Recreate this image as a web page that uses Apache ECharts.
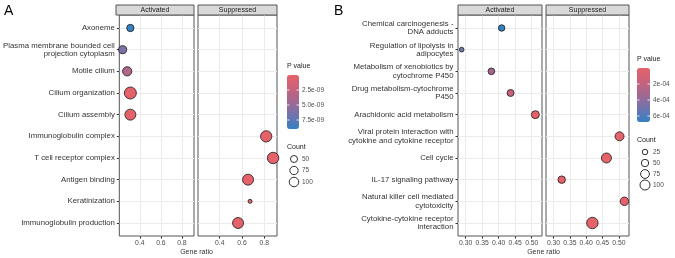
<!DOCTYPE html>
<html>
<head>
<meta charset="utf-8">
<script src="https://cdn.jsdelivr.net/npm/echarts@6/dist/echarts.min.js"></script>
<style>
html, body { margin: 0; padding: 0; background: #fff; }
#main { width: 675px; height: 258px; }
</style>
</head>
<body>
<div id="main"></div>
<script>
// ---- panel A (first 5 terms = Activated, last 5 = Suppressed)
var termsA = ['Axoneme', 'Plasma membrane bounded cell\nprojection cytoplasm', 'Motile cilium',
    'Cilium organization', 'Cilium assembly', 'Immunoglobulin complex', 'T cell receptor complex',
    'Antigen binding', 'Keratinization', 'Immunoglobulin production'];
var ratioA = [0.31, 0.237, 0.28, 0.31, 0.31, 0.818, 0.88, 0.655, 0.673, 0.565];
var countA = [55, 68, 95, 167, 138, 147, 152, 138, 13, 138];
var pA = [9.0e-9, 6.0e-9, 3.6e-9, 1e-11, 1e-11, 1e-11, 1e-11, 1e-11, 1e-11, 1e-11];
var xTicksA = [0.4, 0.6, 0.8];
var pTicksA = [2.5e-9, 5.0e-9, 7.5e-9];
var pTickTextA = ['2.5e-09', '5.0e-09', '7.5e-09'];
var countLegendA = [50, 75, 100];

// ---- panel B
var termsB = ['Chemical carcinogenesis -\nDNA adducts', 'Regulation of lipolysis in\nadipocytes',
    'Metabolism of xenobiotics by\ncytochrome P450', 'Drug metabolism-cytochrome\nP450',
    'Arachidonic acid metabolism', 'Viral protein interaction with\ncytokine and cytokine receptor',
    'Cell cycle', 'IL-17 signaling pathway', 'Natural killer cell mediated\ncytotoxicity',
    'Cytokine-cytokine receptor\ninteraction'];
var ratioB = [0.409, 0.288, 0.378, 0.436, 0.511, 0.502, 0.462, 0.325, 0.517, 0.419];
var countB = [37, 17, 40, 44, 60, 79, 100, 52, 69, 136];
var pB = [6.75e-4, 5.0e-4, 3.2e-4, 1.6e-4, 1e-7, 1e-7, 1e-7, 1e-7, 1e-7, 1e-7];
var xTicksB = [0.30, 0.35, 0.40, 0.45, 0.50];
var pTicksB = [2e-4, 4e-4, 6e-4];
var pTickTextB = ['2e-04', '4e-04', '6e-04'];
var countLegendB = [25, 50, 75, 100];

var facets = ['Activated', 'Suppressed'];

var FONT = '"Liberation Sans", Arial, sans-serif';
var colorStops = ['#e5626a', '#c9627c', '#a06892', '#6f74ae', '#3481c3'];

function sizeA(c) { return 0.97 + 0.853 * Math.sqrt(c); }
function sizeB(c) { return 1 + 0.9 * Math.sqrt(c); }

var chart = echarts.init(document.getElementById('main'));

var gridBoxes = [
    {left: 116, top: 15, width: 78, height: 221},
    {left: 198, top: 15, width: 79, height: 221},
    {left: 458, top: 15, width: 84, height: 221},
    {left: 546, top: 15, width: 83, height: 221}
];

var yIdx = termsA.map(function (t, i) { return i; });

function rows(ratio, count, p, from, to) {
    var out = [];
    for (var i = from; i < to; i++) {
        out.push([ratio[i], i, p[i], count[i]]);
    }
    return out;
}

var grids = [], xAxes = [], yAxes = [], series = [], graphics = [];

gridBoxes.forEach(function (g, i) {
    var isA = i < 2;
    var first = i % 2 === 0;
    var terms = isA ? termsA : termsB;
    grids.push({
        left: g.left, top: g.top, width: g.width, height: g.height,
        show: true, borderColor: '#555', borderWidth: 1, backgroundColor: 'transparent'
    });
    xAxes.push({
        gridIndex: i, type: 'value', position: 'bottom',
        min: isA ? 0.205 : 0.277,
        max: isA ? 0.915 : 0.531,
        minInterval: isA ? 0.1 : 0.025,
        maxInterval: isA ? 0.1 : 0.025,
        axisLine: {show: false, onZero: false},
        axisTick: {show: true, customValues: isA ? xTicksA : xTicksB, length: 2.5,
            lineStyle: {color: '#333', width: 1}},
        axisLabel: {show: true, customValues: isA ? xTicksA : xTicksB, margin: 4,
            fontSize: 6.8, color: '#4d4d4d', fontFamily: FONT,
            formatter: function (v) { return v.toFixed(isA ? 1 : 2); }},
        splitLine: {show: true, lineStyle: {color: '#ebebeb', width: 1}}
    });
    yAxes.push({
        gridIndex: i, type: 'value', inverse: true, position: 'left',
        min: -0.6, max: 9.6, minInterval: 1, maxInterval: 1,
        axisLine: {show: false, onZero: false},
        axisTick: {show: first, customValues: yIdx, length: 2.5,
            lineStyle: {color: '#333', width: 1}},
        axisLabel: {show: first, customValues: yIdx, margin: 4.5,
            fontSize: 7.8, lineHeight: 8.6, color: '#333', fontFamily: FONT, align: 'right',
            formatter: function (v) { return terms[Math.round(v)]; }},
        splitLine: {show: true, lineStyle: {color: '#ebebeb', width: 1}}
    });
    series.push({
        type: 'scatter', xAxisIndex: i, yAxisIndex: i,
        data: isA ? rows(ratioA, countA, pA, first ? 0 : 5, first ? 5 : 10)
                  : rows(ratioB, countB, pB, first ? 0 : 5, first ? 5 : 10),
        symbolSize: function (d) { return isA ? sizeA(d[3]) : sizeB(d[3]); },
        itemStyle: {borderColor: '#1a1a1a', borderWidth: 0.8, opacity: 1},
        z: 3
    });
    // facet strip
    graphics.push({
        type: 'rect', shape: {x: g.left, y: 5, width: g.width, height: 10},
        style: {fill: '#d9d9d9', stroke: '#555', lineWidth: 1}, z: 10
    });
    graphics.push({
        type: 'text', x: g.left + g.width / 2, y: 10.5, z: 11,
        style: {text: facets[i % 2], fontSize: 7, fill: '#1a1a1a', fontFamily: FONT,
            align: 'center', verticalAlign: 'middle'}
    });
});

// panel letters and x titles
graphics.push({type: 'text', x: 4, y: 4, style: {text: 'A', fontSize: 14, fill: '#000', fontFamily: FONT}});
graphics.push({type: 'text', x: 334, y: 4, style: {text: 'B', fontSize: 14, fill: '#000', fontFamily: FONT}});
graphics.push({type: 'text', x: 196.5, y: 252, style: {text: 'Gene ratio', fontSize: 7, fill: '#333',
    fontFamily: FONT, align: 'center', verticalAlign: 'middle'}});
graphics.push({type: 'text', x: 543.5, y: 252, style: {text: 'Gene ratio', fontSize: 7, fill: '#333',
    fontFamily: FONT, align: 'center', verticalAlign: 'middle'}});

// legends (colour bar is the visualMap; labels and size keys drawn here)
var legends = [
    {bx: 287, by: 75, bw: 12, bh: 54, max: 9e-9, ticks: pTicksA, tickText: pTickTextA,
        cx: 294, cy0: 159, counts: countLegendA, size: sizeA, countY: 147, step: 11.5},
    {bx: 637, by: 68, bw: 13, bh: 54, max: 6.75e-4, ticks: pTicksB, tickText: pTickTextB,
        cx: 645, cy0: 152, counts: countLegendB, size: sizeB, countY: 140.5, step: 11}
];
var visualMaps = [];
legends.forEach(function (L, k) {
    visualMaps.push({
        type: 'continuous', seriesIndex: k === 0 ? [0, 1] : [2, 3], dimension: 2,
        min: 0, max: L.max, inverse: true, calculable: false, orient: 'vertical',
        left: L.bx, top: L.by, itemWidth: L.bw, itemHeight: L.bh, padding: 0,
        text: null, showLabel: false, hoverLink: false,
        inRange: {color: colorStops}
    });
    graphics.push({type: 'text', x: L.bx, y: L.by - 9, style: {text: 'P value', fontSize: 7,
        fill: '#1a1a1a', fontFamily: FONT, verticalAlign: 'middle'}});
    L.ticks.forEach(function (v, j) {
        var y = L.by + v / L.max * L.bh;
        graphics.push({type: 'text', x: L.bx + L.bw + 3, y: y, style: {text: L.tickText[j],
            fontSize: 6.5, fill: '#4d4d4d', fontFamily: FONT, verticalAlign: 'middle'}});
        graphics.push({type: 'line', shape: {x1: L.bx, y1: y, x2: L.bx + 2.5, y2: y}, z: 20,
            style: {stroke: '#fff', lineWidth: 0.8}});
        graphics.push({type: 'line', shape: {x1: L.bx + L.bw - 2.5, y1: y, x2: L.bx + L.bw, y2: y}, z: 20,
            style: {stroke: '#fff', lineWidth: 0.8}});
    });
    graphics.push({type: 'text', x: L.bx, y: L.countY, style: {text: 'Count', fontSize: 7,
        fill: '#1a1a1a', fontFamily: FONT, verticalAlign: 'middle'}});
    L.counts.forEach(function (c, j) {
        var y = L.cy0 + j * L.step;
        graphics.push({type: 'circle', shape: {cx: L.cx, cy: y, r: L.size(c) / 2},
            style: {fill: 'none', stroke: '#1a1a1a', lineWidth: 0.9}});
        graphics.push({type: 'text', x: L.cx + 8, y: y, style: {text: String(c), fontSize: 6.5,
            fill: '#4d4d4d', fontFamily: FONT, verticalAlign: 'middle'}});
    });
});

var option = {
    backgroundColor: '#fff',
    animation: false,
    textStyle: {fontFamily: FONT},
    grid: grids,
    xAxis: xAxes,
    yAxis: yAxes,
    visualMap: visualMaps,
    series: series,
    graphic: graphics
};
chart.setOption(option);
</script>
</body>
</html>
